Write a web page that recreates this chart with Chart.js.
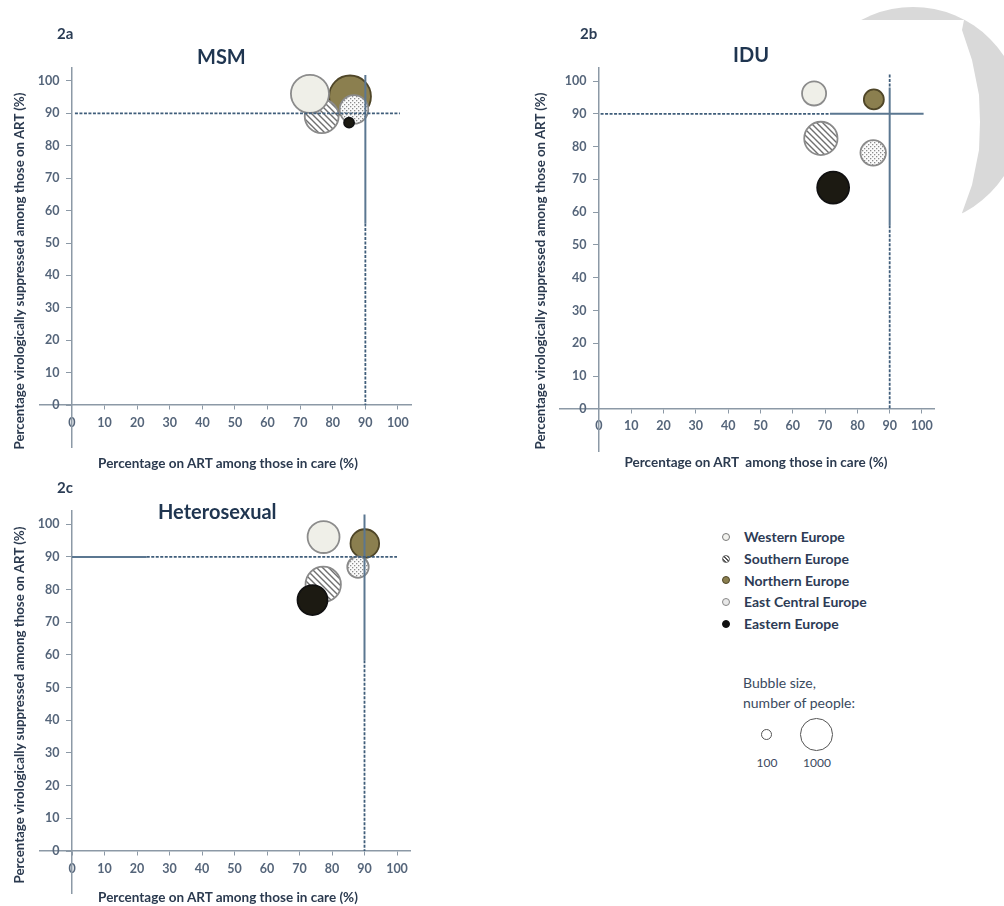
<!DOCTYPE html>
<html>
<head>
<meta charset="utf-8">
<script src="https://cdn.jsdelivr.net/npm/chart.js@4.4.1/dist/chart.umd.min.js"></script>
<style>
  body { margin: 0; background: #fff; font-family: Lato, 'Liberation Sans', sans-serif; }
  #page { position: relative; width: 1004px; height: 906px; overflow: hidden; }
  canvas { position: absolute; }
  .panel-id { position: absolute; font-weight: bold; font-size: 15px; color: #2b3d55; }
  .title { position: absolute; font-weight: bold; font-size: 20px; color: #1f3550; }
  .xtitle { position: absolute; width: 340px; text-align: center; font-weight: bold; font-size: 13.5px; color: #2b3a4f; }
  .ytitle { position: absolute; width: 420px; text-align: center; font-weight: bold; font-size: 13.3px; color: #2b3a4f;
            line-height: 14px; transform: rotate(-90deg); }
  #legend { position: absolute; left: 722px; top: 526px; }
  .item { height: 21.7px; display: flex; align-items: center; font-size: 14px; font-weight: bold; color: #2d3b55; }
  .dot { width: 6px; height: 6px; border-radius: 50%; margin-right: 14px; box-sizing: content-box; }
  .size-note { position: absolute; left: 743px; top: 673px; font-size: 14px; color: #3a4a60; line-height: 20px; }
  .ring { position: absolute; border: 1.5px solid #555; border-radius: 50%; background: #fff; }
  .size-lab { position: absolute; font-size: 12px; color: #3a4a60; width: 40px; text-align: center; }
</style>
</head>
<body>
<div id="page">
  <svg style="position:absolute;left:800px;top:0" width="204" height="240">
    <circle cx="113" cy="116" r="109" fill="#d9d9d9"/>
    <polygon points="0,20 164,20 162,30 172,60 179,95 180,122 179,150 172,185 162,213 162,240 0,240" fill="#fff"/>
  </svg>

  <canvas id="msm" width="440" height="470" style="left:0;top:0"></canvas>
  <canvas id="idu" width="440" height="470" style="left:520px;top:0"></canvas>
  <canvas id="het" width="440" height="470" style="left:0;top:455px"></canvas>

  <div class="panel-id" style="left:57px;top:24px">2a</div>
  <div class="title" style="left:197px;top:44px">MSM</div>
  <div class="ytitle" style="left:-191px;top:264px">Percentage virologically suppressed among those on ART (%)</div>
  <div class="xtitle" style="left:58px;top:455px">Percentage on ART among those in care (%)</div>

  <div class="panel-id" style="left:580px;top:24px">2b</div>
  <div class="title" style="left:733px;top:42px">IDU</div>
  <div class="ytitle" style="left:330px;top:264px">Percentage virologically suppressed among those on ART (%)</div>
  <div class="xtitle" style="left:586px;top:454px">Percentage on ART &nbsp;among those in care (%)</div>

  <div class="panel-id" style="left:57px;top:478px">2c</div>
  <div class="title" style="left:158px;top:499px">Heterosexual</div>
  <div class="ytitle" style="left:-191px;top:698px">Percentage virologically suppressed among those on ART (%)</div>
  <div class="xtitle" style="left:58px;top:889px">Percentage on ART among those in care (%)</div>

  <div id="legend"></div>
  <div class="size-note">Bubble size,<br>number of people:</div>
  <div id="sizes"></div>
</div>

<script>
const regions = ['Western Europe', 'Southern Europe', 'Northern Europe', 'East Central Europe', 'Eastern Europe'];

// 2a MSM
const msmOnArt = [73, 76.6, 85.3, 86.5, 85];
const msmSuppressed = [96, 89.1, 95.2, 91.2, 87.1];
const msmPeople = [1450, 1150, 1750, 820, 100];

// 2b IDU
const iduOnArt = [66.6, 68.7, 85.1, 84.9, 72.5];
const iduSuppressed = [96.2, 82.5, 94.4, 78.1, 67.5];
const iduPeople = [580, 1110, 400, 650, 1020];

// 2c Heterosexual
const hetOnArt = [77.4, 77.3, 90.1, 88.0, 74.0];
const hetSuppressed = [96.1, 81.6, 94.1, 86.9, 76.8];
const hetPeople = [1020, 1250, 820, 460, 900];

const axisTicks = [0, 10, 20, 30, 40, 50, 60, 70, 80, 90, 100];
const sizeLegend = [100, 1000];
const target = 90;

// 90% target lines, drawn in pieces: [from, to, style]
const msmHorizontal = [[0.9, 100.6, 'dash']];
const msmVertical = [[101.8, 56, 'solid'], [56, 0, 'dash']];
const iduHorizontal = [[0.5, 71.5, 'dash'], [71.5, 100.5, 'solid']];
const iduVertical = [[102, 98, 'dash'], [98, 56, 'solid'], [56, 0, 'dash']];
const hetHorizontal = [[0, 23, 'solid'], [23, 100, 'dash']];
const hetVertical = [[103, 58.4, 'solid'], [58.4, 0, 'dash']];

function hatchPattern() {
  const c = document.createElement('canvas');
  c.width = 6; c.height = 6;
  const g = c.getContext('2d');
  g.fillStyle = '#ffffff';
  g.fillRect(0, 0, 6, 6);
  g.strokeStyle = '#707070';
  g.lineWidth = 1.4;
  g.beginPath();
  g.moveTo(-1, -1); g.lineTo(7, 7);
  g.moveTo(-1, 5); g.lineTo(1, 7);
  g.moveTo(5, -1); g.lineTo(7, 1);
  g.stroke();
  return g.createPattern(c, 'repeat');
}

function dotPattern() {
  const c = document.createElement('canvas');
  c.width = 4; c.height = 4;
  const g = c.getContext('2d');
  g.fillStyle = '#fbfbfb';
  g.fillRect(0, 0, 4, 4);
  g.fillStyle = '#8c8c8c';
  g.fillRect(0, 0, 1.3, 1.3);
  g.fillRect(2, 2, 1.3, 1.3);
  return g.createPattern(c, 'repeat');
}

const fills = ['#efefe8', hatchPattern(), '#8b7f4f', dotPattern(), '#1c1a12'];
const borders = ['#8c8c8c', '#8a8a8a', '#4f4628', '#8a8a8a', '#111111'];
const drawOrder = [3, 4, 5, 2, 1];

function radius(n) {
  return 5 * Math.sqrt(n / 100);
}

function segmentSet(points, style) {
  return {
    type: 'line',
    data: points,
    borderColor: style === 'solid' ? '#5b7791' : '#3f5d7a',
    borderWidth: style === 'solid' ? 2 : 1.8,
    borderDash: style === 'solid' ? [] : [3, 1.5],
    pointRadius: 0,
    fill: false,
    tension: 0,
    order: 0,
  };
}

function makePanel(id, onArt, suppressed, people, horizontal, vertical, limits, padding) {
  const datasets = [];
  horizontal.forEach(([a, b, style]) => {
    datasets.push(segmentSet([{ x: a, y: target }, { x: b, y: target }], style));
  });
  vertical.forEach(([a, b, style]) => {
    datasets.push(segmentSet([{ x: target, y: a }, { x: target, y: b }], style));
  });
  regions.forEach((name, i) => {
    datasets.push({
      type: 'bubble',
      label: name,
      data: [{ x: onArt[i], y: suppressed[i], r: radius(people[i]) }],
      backgroundColor: fills[i],
      borderColor: borders[i],
      borderWidth: 1.8,
      order: drawOrder[i],
    });
  });

  const axisLine = { display: true, color: '#8c99a6', width: 1.5 };
  const tickFont = { family: 'Lato', size: 12.5, weight: 'bold' };

  return new Chart(document.getElementById(id), {
    type: 'bubble',
    data: { datasets },
    options: {
      responsive: false,
      animation: false,
      events: [],
      layout: { padding },
      plugins: { legend: { display: false }, tooltip: { enabled: false } },
      scales: {
        x: {
          type: 'linear',
          min: limits[0],
          max: limits[1],
          position: { y: 0 },
          afterBuildTicks: s => { s.ticks = axisTicks.map(v => ({ value: v })); },
          grid: { display: true, drawOnChartArea: false, drawTicks: true, tickLength: 4, color: '#8c99a6' },
          border: axisLine,
          ticks: { font: tickFont, color: '#55657a', padding: 6, maxRotation: 0, autoSkip: false },
        },
        y: {
          type: 'linear',
          min: limits[2],
          max: limits[3],
          position: { x: 0 },
          afterBuildTicks: s => { s.ticks = axisTicks.map(v => ({ value: v })); },
          grid: { display: true, drawOnChartArea: false, drawTicks: true, tickLength: 5, color: '#8c99a6' },
          border: axisLine,
          ticks: { font: tickFont, color: '#55657a', autoSkip: false, callback: v => v + '\u2002\u2002' },
        },
      },
    },
  });
}

makePanel('msm', msmOnArt, msmSuppressed, msmPeople, msmHorizontal, msmVertical,
  [-10, 104, -13, 104], { left: 39.4, right: 29, top: 67.9, bottom: 18.4 });
makePanel('idu', iduOnArt, iduSuppressed, iduPeople, iduHorizontal, iduVertical,
  [-12, 104, -13, 104], { left: 40.2, right: 25.1, top: 67.9, bottom: 18.4 });
makePanel('het', hetOnArt, hetSuppressed, hetPeople, hetHorizontal, hetVertical,
  [-10, 104, -13, 104], { left: 39.5, right: 30, top: 56.2, bottom: 31.5 });

// legend
const legendEl = document.getElementById('legend');
const legendCss = [
  'background:#f2f2ee;border:1.5px solid #7a7a7a',
  'background:repeating-linear-gradient(45deg,#fff 0 1.4px,#555 1.4px 2.6px);border:1.5px solid #666',
  'background:#8b7f4f;border:1.5px solid #4f4628',
  'background:#e8e8e8;border:1.5px solid #888',
  'background:#111;border:1.5px solid #111',
];
regions.forEach((name, i) => {
  const row = document.createElement('div');
  row.className = 'item';
  row.innerHTML = `<span class="dot" style="${legendCss[i]}"></span>${name}`;
  legendEl.appendChild(row);
});

const sizesEl = document.getElementById('sizes');
const sizeCenters = [767, 817];
sizeLegend.forEach((n, i) => {
  const r = radius(n);
  const ring = document.createElement('div');
  ring.className = 'ring';
  ring.style.cssText = `left:${sizeCenters[i] - r - 1}px;top:${735 - r - 1}px;width:${2 * r - 1}px;height:${2 * r - 1}px`;
  sizesEl.appendChild(ring);
  const lab = document.createElement('div');
  lab.className = 'size-lab';
  lab.style.cssText = `left:${sizeCenters[i] - 20}px;top:755px`;
  lab.textContent = n;
  sizesEl.appendChild(lab);
});
</script>
</body>
</html>
